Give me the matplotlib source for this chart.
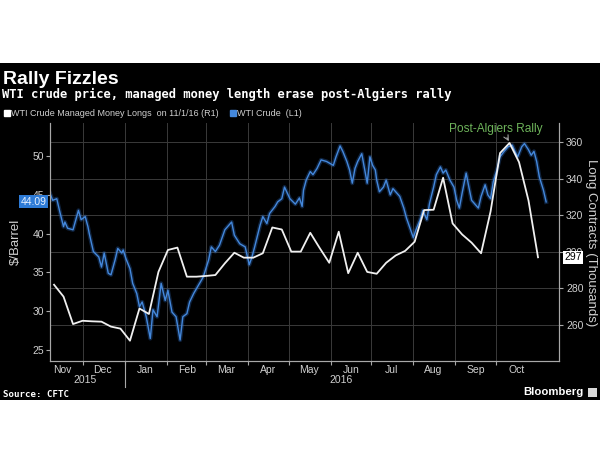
import pandas as pd
import matplotlib
matplotlib.use("Agg")
import matplotlib.pyplot as plt
from matplotlib.patches import Rectangle
from matplotlib.lines import Line2D
from matplotlib.transforms import blended_transform_factory

# WTI crude, $/barrel (L1)
wti_dates = [
    "2015-11-07", "2015-11-09", "2015-11-12", "2015-11-14", "2015-11-17", "2015-11-18",
    "2015-11-20", "2015-11-24", "2015-11-28", "2015-11-30", "2015-12-03", "2015-12-05",
    "2015-12-06", "2015-12-09", "2015-12-13", "2015-12-15", "2015-12-17", "2015-12-20",
    "2015-12-22", "2015-12-25", "2015-12-27", "2015-12-30", "2015-12-31", "2016-01-02",
    "2016-01-05", "2016-01-07", "2016-01-10", "2016-01-12", "2016-01-14", "2016-01-17",
    "2016-01-20", "2016-01-22", "2016-01-25", "2016-01-28", "2016-01-31", "2016-02-02",
    "2016-02-05", "2016-02-08", "2016-02-11", "2016-02-13", "2016-02-16", "2016-02-18",
    "2016-02-21", "2016-02-24", "2016-02-28", "2016-03-03", "2016-03-05", "2016-03-08",
    "2016-03-11", "2016-03-15", "2016-03-17", "2016-03-20", "2016-03-22", "2016-03-26",
    "2016-03-30", "2016-04-02", "2016-04-04", "2016-04-06", "2016-04-10", "2016-04-12",
    "2016-04-15", "2016-04-17", "2016-04-21", "2016-04-23", "2016-04-26", "2016-04-28",
    "2016-05-02", "2016-05-06", "2016-05-09", "2016-05-11", "2016-05-12", "2016-05-14",
    "2016-05-17", "2016-05-19", "2016-05-22", "2016-05-25", "2016-05-29", "2016-05-31",
    "2016-06-03", "2016-06-05", "2016-06-08", "2016-06-10", "2016-06-13", "2016-06-15",
    "2016-06-17", "2016-06-19", "2016-06-21", "2016-06-24", "2016-06-26", "2016-06-28",
    "2016-06-30", "2016-07-02", "2016-07-04", "2016-07-05", "2016-07-07", "2016-07-10",
    "2016-07-12", "2016-07-15", "2016-07-17", "2016-07-20", "2016-07-22", "2016-07-25",
    "2016-07-27", "2016-07-29", "2016-08-01", "2016-08-03", "2016-08-06", "2016-08-08",
    "2016-08-11", "2016-08-13", "2016-08-16", "2016-08-18", "2016-08-21", "2016-08-23",
    "2016-08-25", "2016-08-28", "2016-08-31", "2016-09-02", "2016-09-04", "2016-09-06",
    "2016-09-09", "2016-09-11", "2016-09-13", "2016-09-16", "2016-09-18", "2016-09-20",
    "2016-09-23", "2016-09-25", "2016-09-27", "2016-09-29", "2016-10-02", "2016-10-04",
    "2016-10-07", "2016-10-10", "2016-10-13", "2016-10-15", "2016-10-17", "2016-10-20",
    "2016-10-22", "2016-10-25", "2016-10-27", "2016-10-29", "2016-10-31", "2016-11-02",
    "2016-11-05", "2016-11-07",
]
wti_price = [
    45.2, 44.3, 44.5, 43.0, 40.9, 41.5,
    40.7, 40.5, 43.0, 41.8, 42.2, 40.9,
    40.0, 37.7, 37.0, 35.7, 37.5, 34.9,
    34.7, 36.6, 38.1, 37.5, 37.9, 36.8,
    35.5, 33.6, 32.3, 30.6, 31.2, 29.3,
    26.5, 30.2, 29.3, 33.6, 31.4, 32.7,
    29.9, 29.3, 26.3, 29.3, 29.7, 31.2,
    32.3, 33.2, 34.4, 36.6, 38.3, 37.7,
    38.5, 40.5, 40.9, 41.5, 39.8, 38.7,
    38.3, 36.0, 37.0, 38.3, 41.1, 42.2,
    41.3, 42.6, 43.5, 44.1, 44.5, 46.0,
    44.5, 43.8, 44.6, 43.5, 45.6, 46.9,
    48.0, 47.6, 48.4, 49.5, 49.3, 49.1,
    48.8, 49.9, 51.3, 50.6, 49.3, 48.2,
    46.5, 48.4, 49.3, 50.3, 48.4, 46.5,
    49.9, 48.8, 48.2, 46.9, 45.4, 46.0,
    46.9, 45.0, 45.8, 45.2, 44.8, 43.3,
    42.0, 41.0, 39.5, 40.5, 41.8, 43.0,
    41.8, 43.9, 46.0, 47.6, 48.6, 47.8,
    48.2, 46.9, 46.0, 44.3, 43.3, 45.2,
    47.8, 46.0, 44.3, 43.7, 43.3, 44.8,
    46.3, 45.0, 44.5, 46.7, 48.4, 49.9,
    50.6, 51.2, 51.4, 50.6, 49.9, 51.2,
    51.6, 50.8, 50.1, 50.6, 49.3, 47.3,
    45.6, 44.09,
]

# CFTC managed money longs, thousands of contracts (R1), weekly
cftc_first = "2015-11-10"
cftc_longs = [
    282, 275.5, 260.5, 262.3, 262, 261.8, 259.1, 258, 251.4, 269,
    266, 289, 301, 302.3, 286.4, 286.4, 286.8, 287.3, 293.7, 299.5,
    296.8, 296.8, 299.2, 313.3, 312.2, 300.1, 300.1, 310.4, 302, 294,
    311, 288.3, 299.5, 289, 288, 294, 298, 300.5, 305.5, 322.8,
    323, 340.5, 315.5, 309.5, 305, 299.2, 322, 354, 359.5, 349,
    328, 297,
]

month_names = ["Nov", "Dec", "Jan", "Feb", "Mar", "Apr", "May", "Jun", "Jul", "Aug", "Sep", "Oct"]
left_ticks = [25, 30, 35, 40, 45, 50]
right_ticks = [260, 280, 300, 320, 340, 360]

wti_x = pd.to_datetime(wti_dates)
cftc_x = pd.date_range(cftc_first, periods=len(cftc_longs), freq="7D")
month_starts = pd.date_range("2015-11-01", "2016-11-01", freq="MS")
month_mid = month_starts[:-1] + pd.Timedelta(days=15)

BLUE = "#4488dc"
WHITE = "#f0f0f0"
GRID = "#3a3a3a"
TXT = "#d0d0d0"
SANS = "Liberation Sans"
MONO = "DejaVu Sans Mono"

fig = plt.figure(figsize=(6, 4.66), dpi=100)
fig.patch.set_facecolor("white")
fig.add_artist(Rectangle((0, 0.1416), 1, 0.7232, transform=fig.transFigure,
                         facecolor="black", edgecolor="none", zorder=0))

ax = fig.add_axes([0.0833, 0.2253, 0.8484, 0.5107])
ax.patch.set_visible(False)
ax2 = ax.twinx()

ax.set_xlim(pd.Timestamp("2015-11-07"), pd.Timestamp("2016-11-16 12:00"))
ax.set_ylim(23.6, 54.25)
ax2.set_ylim(240.3, 370.4)

# gridlines: months (x) and right-axis levels (y)
for d in month_starts[1:-1]:
    ax.axvline(d, color=GRID, lw=0.7, zorder=0)
ytrans = blended_transform_factory(ax.transAxes, ax2.transData)
for v in right_ticks:
    ax.plot([0, 1], [v, v], transform=ytrans, color=GRID, lw=0.7, zorder=0)

# series
ax.plot(wti_x, wti_price, color="#2a62b0", lw=3, alpha=0.35, zorder=2)
ax.plot(wti_x, wti_price, color=BLUE, lw=1.0, zorder=3)
ax2.plot(cftc_x, cftc_longs, color=WHITE, lw=1.3, zorder=3)

# axes styling
for a in (ax, ax2):
    a.spines["top"].set_visible(False)
    for s in ("left", "right", "bottom"):
        a.spines[s].set_color("#a8a8a8")
        a.spines[s].set_linewidth(0.8)
ax.set_yticks(left_ticks)
ax2.set_yticks(right_ticks)
ax.tick_params(axis="y", colors="#a8a8a8", labelcolor=TXT, labelsize=7.5, length=3, width=0.8, pad=1)
ax2.tick_params(axis="y", colors="#a8a8a8", labelcolor=TXT, labelsize=7.5, length=3, width=0.8, pad=2)
for lab in ax.get_yticklabels() + ax2.get_yticklabels():
    lab.set_family(SANS)

ax.set_xticks(month_starts[1:-1])
ax.set_xticklabels([])
ax.set_xticks(month_mid, minor=True)
ax.set_xticklabels(month_names, minor=True, family=SANS)
ax.tick_params(axis="x", which="major", colors="#a8a8a8", length=3, width=0.8)
ax.tick_params(axis="x", which="minor", length=0, labelcolor=TXT, labelsize=7.5, pad=3)

# year labels and separator
xtrans = blended_transform_factory(ax.transData, ax.transAxes)
ax.text(pd.Timestamp("2015-12-03"), -0.08, "2015", transform=xtrans, ha="center", va="center",
        color=TXT, fontsize=7.5, family=SANS)
ax.text(pd.Timestamp("2016-06-09"), -0.08, "2016", transform=xtrans, ha="center", va="center",
        color=TXT, fontsize=7.5, family=SANS)
ax.add_line(Line2D([pd.Timestamp("2016-01-01")] * 2, [0, -0.109], transform=xtrans,
                   color="#a8a8a8", lw=0.8, clip_on=False))

ax.set_ylabel("$/Barrel", color=TXT, fontsize=9.5, family=SANS, labelpad=8)
fig.text(0.985, 0.4785, "Long Contracts (Thousands)", rotation=270, ha="center", va="center",
         color=TXT, fontsize=9.5, family=SANS)

# last value tags
ytrans_l = blended_transform_factory(ax.transAxes, ax.transData)
ax.text(-0.006, wti_price[-1], f"{wti_price[-1]:.2f}", transform=ytrans_l, ha="right", va="center",
        color="#e6f0ff", fontsize=7.5, family=SANS, zorder=10, clip_on=False,
        bbox=dict(boxstyle="square,pad=0.15", facecolor="#2e7bd6", edgecolor="none"))
ytrans_r = blended_transform_factory(ax2.transAxes, ax2.transData)
ax2.text(1.01, cftc_longs[-1], f"{cftc_longs[-1]:.0f}", transform=ytrans_r, ha="left", va="center",
         color="black", fontsize=7.5, family=SANS, zorder=10, clip_on=False,
         bbox=dict(boxstyle="square,pad=0.12", facecolor="white", edgecolor="none"))

# annotation
ax2.annotate("Post-Algiers Rally", xy=(pd.Timestamp("2016-10-11"), 359.8),
             xytext=(pd.Timestamp("2016-10-01"), 367.2), ha="center", va="center",
             color="#6db35a", fontsize=8.6, family=SANS,
             arrowprops=dict(arrowstyle="->", color="#a0a0a0", lw=0.8,
                             relpos=(0.6, 0.0), shrinkA=0, shrinkB=1))

# titles and legend
fig.text(0.005, 0.8197, "Rally Fizzles", color="white", fontsize=14, fontweight="bold",
         family=SANS, va="baseline")
fig.text(0.003, 0.7897, "WTI crude price, managed money length erase post-Algiers rally",
         color="white", fontsize=8.75, fontweight="bold", family=MONO, va="baseline")
handles = [
    Line2D([], [], marker="s", ls="none", color="white", markersize=4.5),
    Line2D([], [], marker="s", ls="none", color=BLUE, markersize=4.5),
]
fig.legend(handles, ["WTI Crude Managed Money Longs  on 11/1/16 (R1)", "WTI Crude  (L1)"],
           loc="center left", bbox_to_anchor=(-0.005, 0.756), ncol=2, frameon=False,
           labelcolor=TXT, prop={"family": SANS, "size": 6.5},
           handletextpad=0.05, columnspacing=1.2, handlelength=0.8, borderpad=0.2)

fig.text(0.0045, 0.147, "Source: CFTC", color="white", fontsize=6.6, fontweight="bold",
         family=MONO, va="baseline")
fig.text(0.972, 0.1524, "Bloomberg", color="white", fontsize=8.2, fontweight="bold",
         family=SANS, va="baseline", ha="right")
fig.add_artist(Rectangle((0.98, 0.148), 0.015, 0.0193, transform=fig.transFigure,
                         facecolor="#d8d8d8", edgecolor="none"))

fig.savefig("out.png", dpi=100, facecolor=fig.get_facecolor())
